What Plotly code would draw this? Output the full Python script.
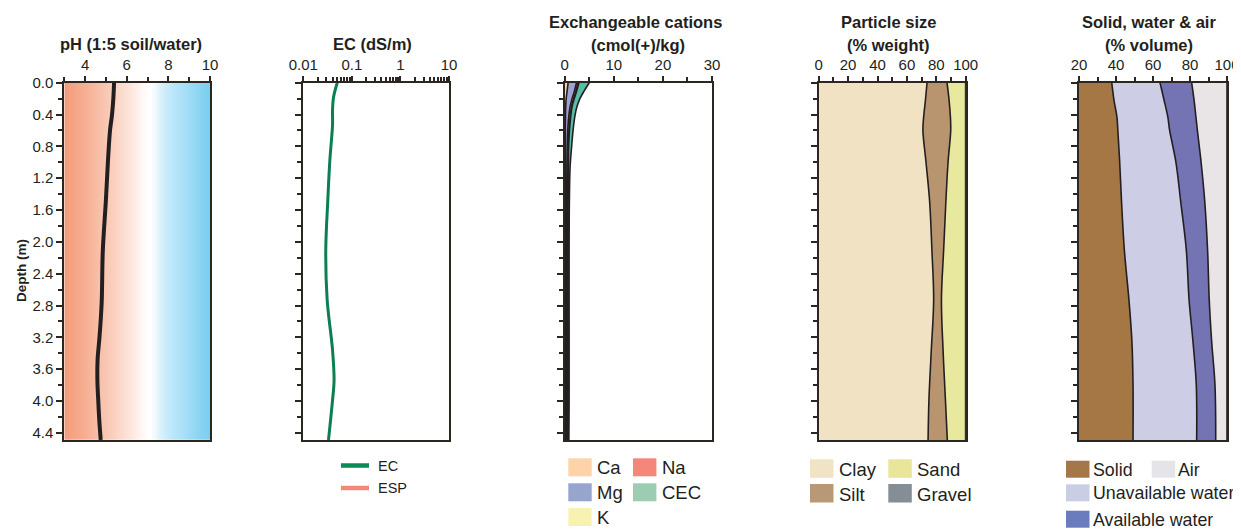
import numpy as np
import plotly.graph_objects as go

# The page body has an 8px margin, so the figure is sized to fit inside the window
OFF = 8
W, H = 1241 - OFF, 529 - OFF
FONT = "Liberation Sans, Arial, Helvetica, sans-serif"
INK = "#231f20"
FRAME = "#2b2620"

# ---------------- data ----------------
depth_ticks = [0.0, 0.4, 0.8, 1.2, 1.6, 2.0, 2.4, 2.8, 3.2, 3.6, 4.0, 4.4]
depth_ticktext = ["0.0", "0.4", "0.8", "1.2", "1.6", "2.0", "2.4", "2.8", "3.2", "3.6", "4.0", "4.4"]
depth_minor = [0.2, 0.6, 1.0, 1.4, 1.8, 2.2, 2.6, 3.0, 3.4, 3.8, 4.2]

ph_depth = [0.0, 0.18, 0.41, 0.59, 0.97, 1.47, 2.11, 2.73, 2.98, 3.23, 3.48, 3.74, 3.99, 4.24, 4.49]
ph_value = [5.39, 5.36, 5.29, 5.20, 5.10, 5.00, 4.85, 4.80, 4.75, 4.68, 4.60, 4.59, 4.63, 4.68, 4.75]
ph_ticks = [4, 6, 8, 10]
ph_minor = [3, 5, 7, 9]

ec_depth = [0.0, 0.18, 0.34, 0.53, 0.72, 1.0, 1.47, 2.11, 2.73, 3.36, 3.74, 3.99, 4.49]
ec_value = [0.050, 0.042, 0.040, 0.040, 0.038, 0.035, 0.032, 0.029, 0.031, 0.040, 0.043, 0.040, 0.033]
esp_depth = []
esp_value = []
ec_ticks = [0.01, 0.1, 1, 10]
ec_ticktext = ["0.01", "0.1", "1", "10"]

cat_depth = [0.0, 0.1, 0.2, 0.3, 0.41, 0.6, 0.81, 1.06, 1.5, 2.0, 3.0, 4.0, 4.49]
cat_ca = [0.7, 0.5, 0.3, 0.2, 0.15, 0.12, 0.1, 0.1, 0.1, 0.1, 0.1, 0.1, 0.1]
cat_mg = [1.7, 1.5, 1.2, 0.9, 0.7, 0.5, 0.4, 0.35, 0.3, 0.3, 0.3, 0.3, 0.3]
cat_na = [0.3, 0.3, 0.3, 0.3, 0.3, 0.25, 0.2, 0.2, 0.2, 0.2, 0.2, 0.2, 0.2]
cat_k = [0.2, 0.15, 0.15, 0.1, 0.1, 0.1, 0.1, 0.1, 0.1, 0.1, 0.1, 0.1, 0.1]
cat_cec = [5.0, 4.0, 3.1, 2.5, 2.1, 1.7, 1.4, 1.1, 0.95, 0.9, 0.9, 0.9, 0.85]
cat_ticks = [0, 10, 20, 30]
cat_minor = [5, 15, 25]

ps_depth = [0.0, 0.22, 0.43, 0.6, 1.0, 1.5, 2.1, 2.73, 3.36, 3.98, 4.49]
ps_clay = [73.7, 72.6, 71.4, 70.9, 73.0, 75.5, 77.0, 78.2, 76.6, 75.0, 74.4]
ps_silt = [13.6, 16.1, 18.2, 18.9, 15.0, 11.0, 8.0, 5.3, 8.0, 11.2, 13.1]
ps_sand = [12.7, 11.3, 10.4, 10.2, 12.0, 13.5, 15.0, 16.5, 15.4, 13.8, 12.5]
ps_gravel = [0, 0, 0, 0, 0, 0, 0, 0, 0, 0, 0]
ps_ticks = [0, 20, 40, 60, 80, 100]
ps_minor = [10, 30, 50, 70, 90]

sw_depth = [0.0, 0.22, 0.43, 0.6, 1.0, 1.5, 2.1, 2.73, 3.25, 3.8, 4.49]
sw_solid = [37.7, 38.9, 40.5, 41.0, 42.0, 43.0, 44.5, 47.0, 48.6, 49.2, 49.2]
sw_unavail = [26.1, 27.1, 27.5, 28.0, 30.4, 32.0, 33.5, 32.5, 33.0, 34.2, 34.4]
sw_avail = [17.1, 16.2, 15.2, 15.0, 13.6, 13.0, 11.5, 10.9, 10.1, 10.1, 10.3]
sw_air = [19.1, 17.8, 16.8, 16.0, 14.0, 12.0, 10.5, 9.6, 8.3, 6.5, 6.1]
sw_ticks = [20, 40, 60, 80, 100]
sw_minor = [30, 50, 70, 90]

# ---------------- helpers (window pixel -> paper) ----------------
def px(x):
    return (x - OFF) / W

def py(y):
    return 1 - (y - OFF) / H

Y_DOM = [py(440), py(82.7)]
DEPTH_RANGE = [4.49, 0]
panels = {
    1: (64.3, 210.0),
    2: (303.3, 449.0),
    3: (564.7, 712.0),
    4: (818.7, 965.7),
    5: (1079.0, 1227.0),
}

fig = go.Figure()

# ---- panel 1: pH with gradient background ----
grad_x = np.linspace(3, 10, 141)
ph_scale = [
    [0.0, "rgb(243,156,124)"],
    [1 / 7, "rgb(246,176,148)"],
    [2 / 7, "rgb(249,200,180)"],
    [3 / 7, "rgb(252,226,214)"],
    [0.53, "rgb(255,247,244)"],
    [0.57, "rgb(255,255,255)"],
    [0.595, "rgb(255,255,255)"],
    [0.645, "rgb(224,243,252)"],
    [5 / 7, "rgb(196,233,250)"],
    [6 / 7, "rgb(158,219,245)"],
    [1.0, "rgb(120,205,240)"],
]
fig.add_trace(go.Heatmap(x=grad_x, y=[0, 4.49], z=[grad_x, grad_x], colorscale=ph_scale,
                         zmin=3, zmax=10, zsmooth="best", showscale=False, hoverinfo="skip",
                         xaxis="x", yaxis="y"))
fig.add_trace(go.Scatter(x=ph_value, y=ph_depth, mode="lines", line=dict(color=INK, width=4, shape="spline"),
                         showlegend=False, xaxis="x", yaxis="y"))

# ---- panel 2: EC ----
fig.add_trace(go.Scatter(x=ec_value, y=ec_depth, mode="lines",
                         line=dict(color="#0b7f52", width=3, shape="spline"),
                         showlegend=False, xaxis="x2", yaxis="y2"))
fig.add_trace(go.Scatter(x=esp_value, y=esp_depth, mode="lines",
                         line=dict(color="#f4897b", width=3),
                         showlegend=False, xaxis="x2", yaxis="y2"))

# ---- stacked helper ----
def stacked(depth, parts, colors, xa, ya, last_total=None, last_color=None):
    cum = np.zeros(len(depth))
    first = True
    for part, col in zip(parts, colors):
        cum = cum + np.array(part, dtype=float)
        fig.add_trace(go.Scatter(x=cum.copy(), y=depth, mode="lines",
                                 line=dict(color=INK, width=1.6, shape="spline"),
                                 fill="tozerox" if first else "tonextx", fillcolor=col,
                                 showlegend=False, xaxis=xa, yaxis=ya))
        first = False
    if last_total is not None:
        fig.add_trace(go.Scatter(x=last_total, y=depth, mode="lines",
                                 line=dict(color=INK, width=1.6, shape="spline"),
                                 fill="tonextx", fillcolor=last_color,
                                 showlegend=False, xaxis=xa, yaxis=ya))

# ---- panel 3: cations ----
stacked(cat_depth, [cat_ca, cat_mg, cat_na, cat_k],
        ["#f9d2a6", "#9ea3d3", "#f4867a", "#f8f2b2"], "x3", "y3",
        last_total=cat_cec, last_color="#55bfa5")

# ---- panel 4: particle size ----
stacked(ps_depth, [ps_clay, ps_silt, ps_sand, ps_gravel],
        ["#f1e2c4", "#b8956f", "#e9e89f", "#858d95"], "x4", "y4")

# ---- panel 5: solid, water & air ----
stacked(sw_depth, [sw_solid, sw_unavail, sw_avail, sw_air],
        ["#a57744", "#cdcde6", "#7473b3", "#e9e5e6"], "x5", "y5")

# ---------------- axes ----------------
tickfont = dict(family=FONT, size=15, color=INK)

def xaxis_cfg(i, rng, tickvals, ticktext, minor_vals, log=False):
    x0, x1 = panels[i]
    cfg = dict(domain=[px(x0), px(x1)], anchor="y" if i == 1 else f"y{i}", side="top",
               range=rng, showline=True, linecolor=FRAME, linewidth=2, mirror=True,
               ticks="outside", ticklen=5, tickwidth=1.5, tickcolor=FRAME,
               tickvals=tickvals, ticktext=ticktext, tickfont=tickfont,
               showgrid=False, zeroline=False, fixedrange=True, automargin=False,
               minor=dict(tickvals=minor_vals, ticks="outside", ticklen=4, tickwidth=1.5,
                          tickcolor=FRAME, showgrid=False))
    if log:
        cfg["type"] = "log"
    return cfg

def yaxis_cfg(i):
    return dict(domain=Y_DOM, anchor="x" if i == 1 else f"x{i}", range=DEPTH_RANGE,
                showline=True, linecolor=FRAME, linewidth=2, mirror=True,
                ticks="outside", ticklen=6, tickwidth=1.5, tickcolor=FRAME,
                tickvals=depth_ticks, ticktext=depth_ticktext, tickfont=tickfont,
                showticklabels=(i == 1), showgrid=False, zeroline=False, fixedrange=True,
                automargin=False,
                minor=dict(tickvals=depth_minor, ticks="outside", ticklen=4, tickwidth=1.5,
                           tickcolor=FRAME, showgrid=False))

ec_minor = []
for dec in [0.01, 0.1, 1]:
    for m in range(2, 10):
        ec_minor.append(dec * m)

fig.update_layout(
    xaxis=xaxis_cfg(1, [3, 10], ph_ticks, [str(v) for v in ph_ticks], ph_minor),
    xaxis2=xaxis_cfg(2, [-2, 1], ec_ticks, ec_ticktext, ec_minor, log=True),
    xaxis3=xaxis_cfg(3, [0, 30], cat_ticks, [str(v) for v in cat_ticks], cat_minor),
    xaxis4=xaxis_cfg(4, [0, 100], ps_ticks, [str(v) for v in ps_ticks], ps_minor),
    xaxis5=xaxis_cfg(5, [20, 100], sw_ticks, [str(v) for v in sw_ticks], sw_minor),
    yaxis=yaxis_cfg(1), yaxis2=yaxis_cfg(2), yaxis3=yaxis_cfg(3),
    yaxis4=yaxis_cfg(4), yaxis5=yaxis_cfg(5),
)

# ---------------- titles ----------------
ann = []
def text(x, y, s, size, bold=False, anchor="center", angle=0):
    ann.append(dict(x=px(x), y=py(y), xref="paper", yref="paper", text=f"<b>{s}</b>" if bold else s,
                    showarrow=False, xanchor=anchor, yanchor="middle", textangle=angle,
                    font=dict(family=FONT, size=size, color=INK)))

TS = 16.5
text(131.5, 43.5, "pH (1:5 soil/water)", TS, True)
text(372.5, 43.5, "EC (dS/m)", TS, True)
text(635, 22.5, "Exchangeable cations", TS, True)
text(637.5, 44.5, "(cmol(+)/kg)", TS, True)
text(888, 22.5, "Particle size", TS, True)
text(888, 44.5, "(% weight)", TS, True)
text(1149, 22.5, "Solid, water &amp; air", TS, True)
text(1149, 44.5, "(% volume)", TS, True)
text(21, 271, "Depth (m)", 13.5, True, angle=-90)

# ---------------- legends (drawn) ----------------
shapes = []
def swatch(x0, y0, x1, y1, color):
    shapes.append(dict(type="rect", xref="paper", yref="paper", x0=px(x0), x1=px(x1),
                       y0=py(y1), y1=py(y0), fillcolor=color, line=dict(width=0)))

def legline(x0, x1, y, color):
    shapes.append(dict(type="line", xref="paper", yref="paper", x0=px(x0), x1=px(x1),
                       y0=py(y), y1=py(y), line=dict(color=color, width=4.5)))

legline(341, 369, 465.5, "#0b8a55")
legline(341, 369, 488, "#f4897b")
text(376, 466, "EC", 14.5, anchor="left")
text(376, 488, "ESP", 14.5, anchor="left")

LS = 18.5
# cations
for (x0, y0, col, lab) in [(568.3, 458.3, "#fdd3a7", "Ca"), (633.0, 458.3, "#f4867a", "Na"),
                           (568.3, 483.3, "#97a5cd", "Mg"), (633.0, 483.3, "#9ccdb3", "CEC"),
                           (568.3, 508.0, "#f8f2b2", "K")]:
    swatch(x0, y0, x0 + 23.4, y0 + 18, col)
    text(x0 + 26.5, y0 + 9.5, lab, LS, anchor="left")
# particle size
for (x0, y0, col, lab) in [(810.0, 459.3, "#f1e3c5", "Clay"), (888.3, 459.3, "#e9e599", "Sand"),
                           (810.0, 484.0, "#b89877", "Silt"), (888.3, 484.0, "#858d95", "Gravel")]:
    swatch(x0, y0, x0 + 23.5, y0 + 18.5, col)
    text(x0 + 26.5, y0 + 10, lab, LS, anchor="left")
# solid water air
for (x0, y0, col, lab) in [(1066.0, 460.7, "#a37747", "Solid"), (1151.7, 460.7, "#e5e4e8", "Air"),
                           (1066.0, 484.3, "#c9cee5", "Unavailable water"),
                           (1066.0, 510.7, "#6a7bbe", "Available water")]:
    swatch(x0, y0, x0 + 23.5, y0 + 17, col)
    text(x0 + 24.5, y0 + 9, lab, 17.8, anchor="left")

fig.update_layout(
    width=W, height=H, autosize=False,
    margin=dict(l=0, r=0, t=0, b=0),
    paper_bgcolor="white", plot_bgcolor="white",
    showlegend=False,
    annotations=ann, shapes=shapes,
    font=dict(family=FONT, color=INK),
)

fig.write_html("out.html")
